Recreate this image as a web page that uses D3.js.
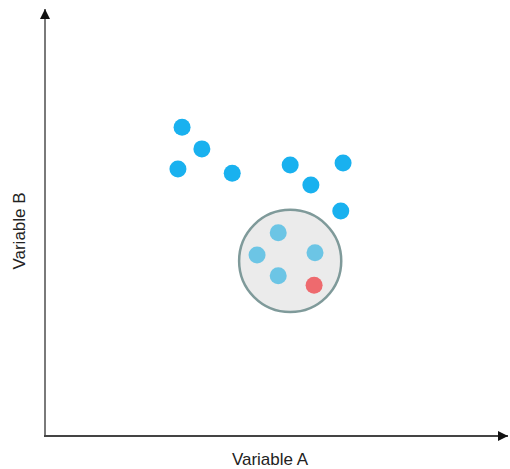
<!DOCTYPE html>
<html><head><meta charset="utf-8">
<script src="https://cdn.jsdelivr.net/npm/d3@7"></script>
<style>html,body{margin:0;padding:0;background:#fff;}svg{display:block;}</style>
</head><body>
<svg id="chart" width="510" height="469"></svg>
<script>
// Data (arbitrary 0-100 units)
const outsideX = [29.8, 34.1, 28.9, 40.7, 53.3, 57.8, 64.8, 64.3];
const outsideY = [72.5, 67.4, 62.7, 61.7, 63.6, 58.9, 64.1, 52.8];
const insideX = [50.7, 46.1, 58.7, 50.7];
const insideY = [47.7, 42.5, 43.0, 37.6];
const queryX = [58.5];
const queryY = [35.4];
const clusterCenter = [53.3, 41.1];
const clusterRadius = 11.1;
const xLabel = "Variable A";
const yLabel = "Variable B";

const svg = d3.select("#chart");
const x = d3.scaleLinear().domain([0, 100]).range([45, 505]);
const y = d3.scaleLinear().domain([0, 100]).range([436, 10]);

const defs = svg.append("defs");
defs.append("marker").attr("id","arrow").attr("viewBox","0 0 10 10")
  .attr("refX",10).attr("refY",5).attr("markerWidth",10).attr("markerHeight",10)
  .attr("markerUnits","userSpaceOnUse").attr("orient","auto")
  .append("path").attr("d","M0,0 L10,5 L0,10 Z").attr("fill","#111");

// axes
svg.append("line").attr("x1", x(0)).attr("y1", y(0)).attr("x2", x(0)).attr("y2", y(100) - 1)
  .attr("stroke","#7a7a7a").attr("stroke-width",2).attr("marker-end","url(#arrow)");
svg.append("line").attr("x1", x(0) - 1).attr("y1", y(0)).attr("x2", x(100) + 3).attr("y2", y(0))
  .attr("stroke","#444").attr("stroke-width",2).attr("marker-end","url(#arrow)");

// cluster circle
svg.append("circle").attr("cx", x(clusterCenter[0])).attr("cy", y(clusterCenter[1]))
  .attr("r", x(clusterRadius) - x(0))
  .attr("fill","#ebebeb").attr("stroke","#7f9a9a").attr("stroke-width",2.5);

const pts = (xs, ys) => xs.map((v,i) => [v, ys[i]]);
svg.selectAll("circle.out").data(pts(outsideX, outsideY)).join("circle").attr("class","out")
  .attr("cx", d => x(d[0])).attr("cy", d => y(d[1])).attr("r", 8.5).attr("fill","#19b1ef");
svg.selectAll("circle.in").data(pts(insideX, insideY)).join("circle").attr("class","in")
  .attr("cx", d => x(d[0])).attr("cy", d => y(d[1])).attr("r", 8.5).attr("fill","#6cc5e5");
svg.selectAll("circle.q").data(pts(queryX, queryY)).join("circle").attr("class","q")
  .attr("cx", d => x(d[0])).attr("cy", d => y(d[1])).attr("r", 8.5).attr("fill","#ee6a6e");

svg.append("text").attr("x", 270).attr("y", 465).attr("text-anchor","middle")
  .attr("font-family","Liberation Sans, Arial, sans-serif").attr("font-size",17).attr("fill","#222")
  .text(xLabel);
svg.append("text").attr("transform","translate(25,231) rotate(-90)").attr("text-anchor","middle")
  .attr("font-family","Liberation Sans, Arial, sans-serif").attr("font-size",17).attr("fill","#222")
  .text(yLabel);
</script>
</body></html>
